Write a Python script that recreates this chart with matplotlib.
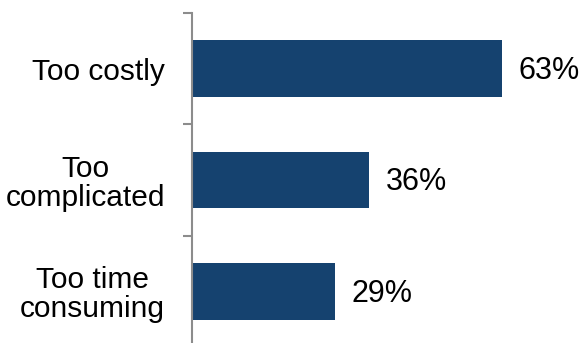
import matplotlib.pyplot as plt
import numpy as np

plt.rcParams['font.family'] = ['Liberation Sans', 'DejaVu Sans']

# Data
categories = ['Too costly', 'Too\ncomplicated', 'Too time\nconsuming']
values = [63, 36, 29]
labels = ['63%', '36%', '29%']

bar_color = '#15426F'
axis_color = '#8C8C8C'

fig = plt.figure(figsize=(5.88, 3.43), dpi=100)
ax = fig.add_axes([192 / 588, -4 / 343, 393.6 / 588, 334 / 343])

y = np.arange(len(categories))
ax.barh(y, values, height=0.51, color=bar_color)

for yi, v, lab in zip(y, values, labels):
    ax.text(v + 3.4, yi + 0.02, lab, va='center', ha='left', fontsize=22)

ax.set_xlim(0, 80)
ax.set_ylim(len(categories) - 0.5, -0.5)

ax.set_yticks(y)
ax.set_yticklabels(categories, fontsize=21.5, multialignment='center',
                   linespacing=1.05)
ax.tick_params(axis='y', which='major', length=0, pad=19.5)
ax.set_yticks(np.arange(len(categories) + 1) - 0.5, minor=True)
ax.tick_params(axis='y', which='minor', length=6.5, width=1.5, color=axis_color)

ax.set_xticks([])
for side in ['top', 'right', 'bottom']:
    ax.spines[side].set_visible(False)
ax.spines['left'].set_color(axis_color)
ax.spines['left'].set_linewidth(1.5)

fig.savefig('out.png', dpi=100)
